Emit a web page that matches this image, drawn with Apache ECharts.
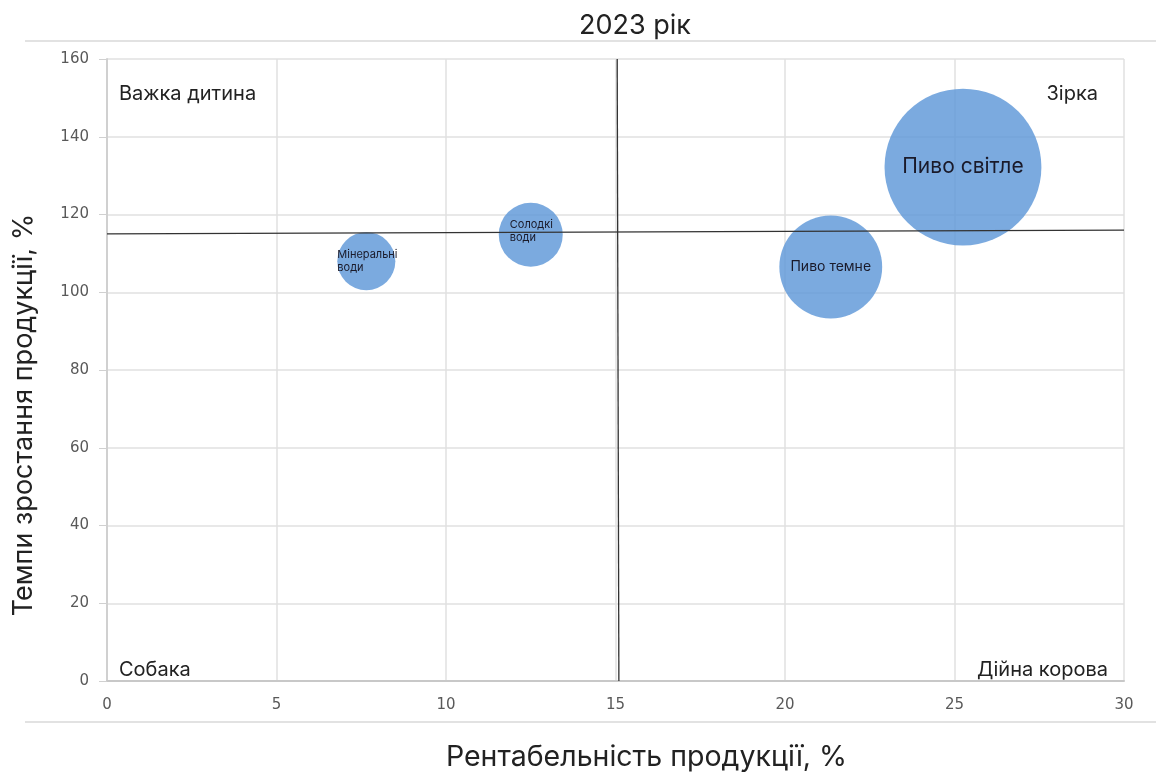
<!DOCTYPE html>
<html><head><meta charset="utf-8">
<script src="https://cdn.jsdelivr.net/npm/echarts@6/dist/echarts.min.js"></script>
<style>html,body{margin:0;padding:0;background:#fff}#c{width:1156px;height:775px}</style>
</head><body><div id="c"></div>
<script>
const names = ['Мінеральні\nводи', 'Солодкі\nводи', 'Пиво темне', 'Пиво світле'];
const profitability = [7.65, 12.5, 21.35, 25.25];
const growth = [108, 114.8, 106.5, 132.2];
const shares = [7.9, 9.6, 24.8, 57.7];
const labelFont = [11, 11, 14, 21];
const xTicks = [0, 5, 10, 15, 20, 25, 30];
const yTicks = [0, 20, 40, 60, 80, 100, 120, 140, 160];
const quadX = [15.05, 15.1];
const quadY = [115, 116];
const corners = [
  {text: 'Важка дитина', x: 119, y: 96, align: 'left'},
  {text: 'Зірка', x: 1098, y: 96, align: 'right'},
  {text: 'Собака', x: 119, y: 672, align: 'left'},
  {text: 'Дійна корова', x: 1108, y: 672, align: 'right'}
];

const FONT = 'Inter, "Noto Sans", sans-serif';
const chart = echarts.init(document.getElementById('c'));
const data = names.map((n, i) => ({
  name: n,
  value: [profitability[i], growth[i], shares[i]],
  label: {
    fontSize: labelFont[i],
    align: i < 2 ? 'left' : 'center',
    offset: i === 0 ? [-29, 0] : (i === 1 ? [-21, -4] : [0, 0])
  }
}));
chart.setOption({
  animation: false,
  title: {text: '2023 рік', left: 630, top: 7, textAlign: 'center',
    textStyle: {fontFamily: FONT, fontSize: 27, fontWeight: 'normal', color: '#222'}},
  grid: {left: 107, right: 32, top: 59, bottom: 94, outerBoundsMode: 'none', containLabel: false},
  xAxis: {
    type: 'value', min: 0, max: 30, interval: 5,
    name: 'Рентабельність продукції, %', nameLocation: 'middle', nameGap: 62,
    nameTextStyle: {fontFamily: FONT, fontSize: 28.5, color: '#222', padding: [0, 0, 0, 62]},
    axisLine: {show: true, lineStyle: {color: '#c8c8c8', width: 2}},
    axisTick: {show: false},
    axisLabel: {color: '#595959', fontSize: 15, fontFamily: 'DejaVu Sans', margin: 17},
    splitLine: {lineStyle: {color: '#e0e0e0', width: 1.5}}
  },
  yAxis: {
    type: 'value', min: 0, max: 160, interval: 20,
    name: 'Темпи зростання продукції, %', nameLocation: 'middle', nameGap: 70,
    nameTextStyle: {fontFamily: FONT, fontSize: 27, color: '#222', padding: [0, 90, 0, 0]},
    axisLine: {show: true, lineStyle: {color: '#d0d0d0', width: 2}},
    axisTick: {show: true, length: 8, inside: false, lineStyle: {color: '#d0d0d0'}},
    axisLabel: {color: '#595959', fontSize: 15, fontFamily: 'DejaVu Sans', margin: 18},
    splitLine: {lineStyle: {color: '#e0e0e0', width: 1.5}}
  },
  series: [{
    type: 'scatter',
    data: data,
    symbolSize: v => Math.sqrt(v[2]) * 20.65,
    itemStyle: {color: 'rgba(100,155,217,0.85)', opacity: 1},
    label: {show: true, position: 'inside', formatter: p => p.name,
      color: '#1a1a2a', fontFamily: FONT, lineHeight: 13},
    markLine: {
      silent: true, symbol: 'none', animation: false,
      lineStyle: {color: '#333', width: 1.3, type: 'solid'},
      label: {show: false},
      data: [
        [{coord: [quadX[0], 160]}, {coord: [quadX[1], 0]}],
        [{coord: [0, quadY[0]]}, {coord: [30, quadY[1]]}]
      ]
    }
  }],
  graphic: [
    {type: 'line', shape: {x1: 25, y1: 41, x2: 1156, y2: 41}, style: {stroke: '#e2e2e2', lineWidth: 2}},
    {type: 'line', shape: {x1: 25, y1: 722, x2: 1156, y2: 722}, style: {stroke: '#e2e2e2', lineWidth: 2}}
  ].concat(corners.map(c => ({
    type: 'text', left: c.align === 'left' ? c.x : null, right: c.align === 'right' ? 1156 - c.x : null,
    top: c.y - 12,
    style: {text: c.text, fontSize: 20, fontFamily: FONT, fill: '#222'}
  })))
});
</script></body></html>
